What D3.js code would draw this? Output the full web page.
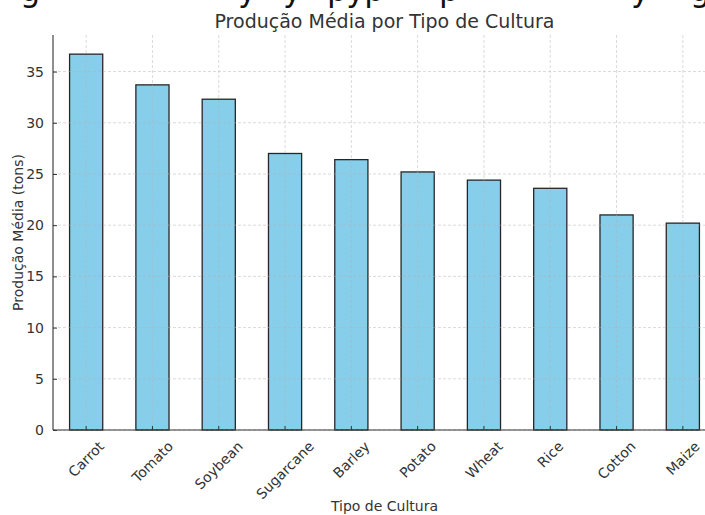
<!DOCTYPE html>
<html><head><meta charset="utf-8">
<script src="https://cdn.jsdelivr.net/npm/d3@7"></script>
<style>html,body{margin:0;padding:0;background:#fff;}svg{display:block;}</style>
</head><body>
<svg id="chart" width="705" height="515"></svg>
<script>
const categories = ["Carrot","Tomato","Soybean","Sugarcane","Barley","Potato","Wheat","Rice","Cotton","Maize"];
const values = [36.7, 33.7, 32.3, 27.0, 26.4, 25.2, 24.4, 23.6, 21.0, 20.2];
const yTicks = [0,5,10,15,20,25,30,35];
const titleText = "Produção Média por Tipo de Cultura";
const xLabelText = "Tipo de Cultura";
const yLabelText = "Produção Média (tons)";
// clipped fragments of a larger caption above the chart
const clippedGlyphs = [["g",20],["y",238],["y",283],["pyp",327],["p",439],["y",631],["g",690]];

(function(){
const svg = d3.select("#chart");
const font = "DejaVu Sans, sans-serif";
const txt = "#333";
const mLeft = 53, mRight = 716, mTop = 35, mBottom = 430;

const x = d3.scaleBand().domain(categories).range([mLeft, mRight]).paddingInner(0.5).paddingOuter(0.25);
const y = d3.scaleLinear().domain([0, 38.57]).range([mBottom, mTop]);

// clipped caption
svg.append("g").selectAll("text").data(clippedGlyphs).join("text")
  .attr("x", d => d[1]).attr("y", 1)
  .attr("font-family", font).attr("font-size", 32).attr("fill", "#111")
  .attr("letter-spacing", -1)
  .text(d => d[0]);

// bars
svg.append("g").selectAll("rect").data(categories).join("rect")
  .attr("x", d => x(d)).attr("width", x.bandwidth())
  .attr("y", (d,i) => y(values[i])).attr("height", (d,i) => y(0) - y(values[i]))
  .attr("fill", "#87CEEB").attr("stroke", "#262626").attr("stroke-width", 1.3);

// grid (drawn above bars)
const grid = svg.append("g").attr("stroke", "#b0b0b0").attr("stroke-opacity", 0.6)
  .attr("stroke-width", 0.8).attr("stroke-dasharray", "3,2");
grid.selectAll("line.h").data(yTicks).join("line").attr("class","h")
  .attr("x1", mLeft).attr("x2", 705).attr("y1", d => y(d)).attr("y2", d => y(d));
grid.selectAll("line.v").data(categories).join("line").attr("class","v")
  .attr("x1", d => x(d) + x.bandwidth()/2).attr("x2", d => x(d) + x.bandwidth()/2)
  .attr("y1", mTop).attr("y2", mBottom);

// y axis
const yAxis = svg.append("g").attr("transform", `translate(${mLeft},0)`)
  .call(d3.axisLeft(y).tickValues(yTicks).tickSizeInner(-4).tickSizeOuter(0).tickPadding(9));
yAxis.select(".domain").remove();
yAxis.selectAll(".tick line").attr("stroke", "#333");
yAxis.selectAll(".tick text").attr("font-family", font).attr("font-size", 14).attr("fill", txt);

// x axis
const xAxis = svg.append("g").attr("transform", `translate(0,${mBottom})`)
  .call(d3.axisBottom(x).tickSizeInner(-4).tickSizeOuter(0).tickFormat(""));
xAxis.select(".domain").remove();
xAxis.selectAll(".tick line").attr("stroke", "#333");

// x tick labels rotated, centered
const lblTop = 438, fs = 14;
svg.append("g").selectAll("text").data(categories).join("text")
  .attr("font-family", font).attr("font-size", fs).attr("fill", txt)
  .attr("text-anchor", "middle").attr("dominant-baseline", "central")
  .text(d => d)
  .each(function(d){
    const w = this.getComputedTextLength();
    const h = fs * 1.16;
    const bh = (w + h) * Math.SQRT1_2;
    const cx = x(d) + x.bandwidth()/2, cy = lblTop + bh/2;
    d3.select(this).attr("x", cx).attr("y", cy).attr("transform", `rotate(-45,${cx},${cy})`);
  });

// spines
svg.append("line").attr("x1", mLeft).attr("x2", mLeft).attr("y1", mTop).attr("y2", mBottom)
  .attr("stroke", "#333").attr("stroke-width", 1.1);
svg.append("line").attr("x1", mLeft).attr("x2", 705).attr("y1", mBottom).attr("y2", mBottom)
  .attr("stroke", "#333").attr("stroke-width", 1.1);

// titles
svg.append("text").attr("x", (mLeft+mRight)/2).attr("y", 28).attr("text-anchor", "middle")
  .attr("font-family", font).attr("font-size", 19).attr("fill", txt).text(titleText);
svg.append("text").attr("x", (mLeft+mRight)/2).attr("y", 511).attr("text-anchor", "middle")
  .attr("font-family", font).attr("font-size", 14).attr("fill", txt).text(xLabelText);
svg.append("text").attr("transform", `translate(23,${(mTop+mBottom)/2}) rotate(-90)`).attr("text-anchor", "middle")
  .attr("font-family", font).attr("font-size", 14).attr("fill", txt).text(yLabelText);
})();
</script>
</body></html>
